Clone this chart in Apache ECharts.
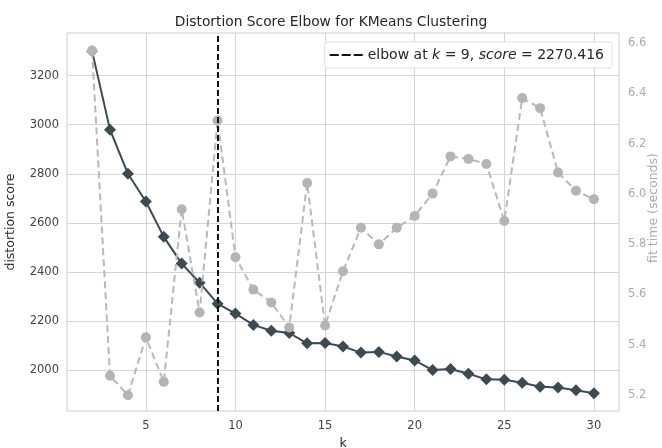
<!DOCTYPE html>
<html>
<head>
<meta charset="utf-8">
<script src="https://cdn.jsdelivr.net/npm/echarts@6/dist/echarts.min.js"></script>
<style>
  html, body { margin: 0; padding: 0; background: #fff; }
  #chart { width: 662px; height: 448px; }
</style>
</head>
<body>
<div id="chart"></div>
<script>
// k values and the two measured curves
const kValues = [2, 3, 4, 5, 6, 7, 8, 9, 10, 11, 12, 13, 14, 15, 16, 17, 18, 19, 20, 21, 22, 23, 24, 25, 26, 27, 28, 29, 30];
const distortion = [3300, 2980, 2800, 2687, 2543, 2434, 2356, 2270.416, 2230, 2184, 2160, 2151, 2109, 2110, 2096, 2071, 2074, 2055, 2039, 2000, 2004, 1985, 1962, 1960, 1948, 1932, 1929, 1918, 1905];
const fitTime = [6.57, 5.276, 5.199, 5.429, 5.252, 5.939, 5.528, 6.292, 5.748, 5.619, 5.568, 5.468, 6.043, 5.476, 5.692, 5.865, 5.799, 5.865, 5.912, 6.001, 6.149, 6.139, 6.119, 5.892, 6.381, 6.341, 6.085, 6.012, 5.979];
const elbowK = 9;
const elbowScore = 2270.416;

// tick labels
const xTicks = [5, 10, 15, 20, 25, 30];
const leftTicks = [2000, 2200, 2400, 2600, 2800, 3000, 3200];
const rightTicks = [5.2, 5.4, 5.6, 5.8, 6.0, 6.2, 6.4, 6.6];

const FONT = "DejaVu Sans";
const chart = echarts.init(document.getElementById("chart"));

const option = {
  animation: false,
  backgroundColor: "#fff",
  textStyle: { fontFamily: FONT },
  title: {
    text: "Distortion Score Elbow for KMeans Clustering",
    left: "center",
    top: 10,
    textStyle: { fontFamily: FONT, fontSize: 13.8, fontWeight: "normal", color: "#262626" }
  },
  grid: {
    left: 67, right: 43, top: 33, bottom: 37,
    outerBoundsMode: "none",
    containLabel: false,
    show: true, borderColor: "#cccccc", borderWidth: 1, backgroundColor: "#fff"
  },
  legend: {
    data: [{
      name: "elbow",
      icon: "path://M0,0h9v2h-9z M12,0h9v2h-9z M24,0h9v2h-9z",
      itemStyle: { color: "#111" }
    }],
    right: 50,
    top: 42,
    itemWidth: 33,
    itemHeight: 3,
    itemGap: 10,
    padding: [6, 8, 6, 5],
    backgroundColor: "#fff",
    borderColor: "#e0e0e0",
    borderWidth: 1,
    borderRadius: 3,
    formatter: () => "{a|elbow at }{i|k}{a| = " + elbowK + ", }{i|score}{a| = " + elbowScore.toFixed(3) + "}",
    textStyle: {
      fontFamily: FONT, fontSize: 14, color: "#262626",
      rich: {
        a: { fontFamily: FONT, fontSize: 14, color: "#262626" },
        i: { fontFamily: FONT, fontSize: 14, color: "#262626", fontStyle: "italic" }
      }
    }
  },
  xAxis: {
    type: "value",
    min: 0.6,
    max: 31.4,
    name: "k",
    nameLocation: "middle",
    nameGap: 22,
    nameTextStyle: { fontFamily: FONT, fontSize: 12.5, color: "#262626" },
    axisLine: { show: false },
    axisTick: { show: false, customValues: xTicks },
    axisLabel: { customValues: xTicks, margin: 9, fontSize: 11.5, color: "#444", fontFamily: FONT },
    splitLine: { show: true, lineStyle: { color: "#d5d5d5", width: 1 } }
  },
  yAxis: [{
    type: "value",
    min: 1833,
    max: 3374,
    name: "distortion score",
    nameLocation: "middle",
    nameGap: 50,
    nameTextStyle: { fontFamily: FONT, fontSize: 12.5, color: "#262626" },
    axisLine: { show: false },
    axisTick: { show: false, customValues: leftTicks },
    axisLabel: {
      customValues: leftTicks, margin: 8, fontSize: 11.5, color: "#444", fontFamily: FONT,
      formatter: v => String(v)
    },
    splitLine: { show: true, lineStyle: { color: "#d5d5d5", width: 1 } }
  }, {
    type: "value",
    min: 5.136,
    max: 6.64,
    position: "right",
    name: "fit time (seconds)",
    nameLocation: "middle",
    nameGap: 28,
    nameMoveOverlap: false,
    nameTextStyle: { fontFamily: FONT, fontSize: 12.5, color: "#aaaaaa", padding: [0, 0, 0, 28] },
    axisLine: { show: false },
    axisTick: { show: false, customValues: rightTicks },
    axisLabel: {
      customValues: rightTicks, margin: 9, fontSize: 11.5, color: "#aaaaaa", fontFamily: FONT,
      formatter: v => v.toFixed(1)
    },
    splitLine: { show: false }
  }],
  series: [{
    name: "distortion",
    type: "line",
    yAxisIndex: 0,
    z: 2,
    symbol: "diamond",
    symbolSize: 12,
    lineStyle: { color: "#3c4a52", width: 2 },
    itemStyle: { color: "#3c4a52" },
    data: kValues.map((k, i) => i === 0
      ? { value: [k, distortion[i]], itemStyle: { color: "#8e9396" } }
      : [k, distortion[i]])
  }, {
    name: "fit time",
    type: "line",
    yAxisIndex: 1,
    z: 3,
    symbol: "circle",
    symbolSize: 10,
    lineStyle: { color: "#b8b8b8", width: 2, type: [7, 4] },
    itemStyle: { color: "#b4b4b4" },
    data: kValues.map((k, i) => [k, fitTime[i]])
  }, {
    name: "elbow",
    type: "line",
    yAxisIndex: 0,
    z: 4,
    data: [],
    lineStyle: { color: "#111", type: [6, 3], width: 2 },
    itemStyle: { color: "#111" },
    markLine: {
      silent: true,
      symbol: "none",
      label: { show: false },
      lineStyle: { color: "#111", type: [6, 3], width: 2 },
      data: [{ xAxis: elbowK }]
    }
  }]
};

chart.setOption(option);
</script>
</body>
</html>
